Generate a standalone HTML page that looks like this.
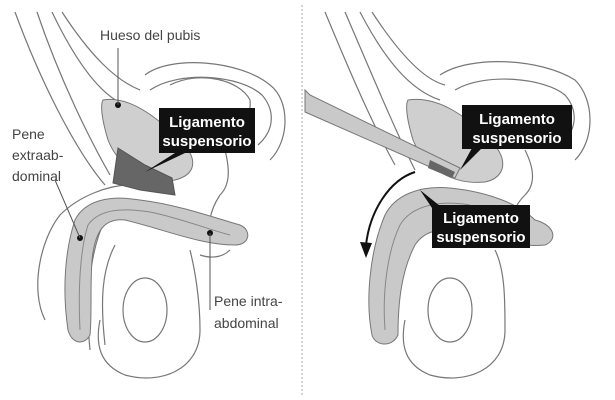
<!DOCTYPE html>
<html><head><meta charset="utf-8"><style>
html,body{margin:0;padding:0;background:#fff;width:615px;height:400px;overflow:hidden}
svg{display:block}
text{font-family:"Liberation Sans Narrow","Liberation Sans",sans-serif}
</style></head><body>
<svg width="615" height="400" viewBox="0 0 615 400" xmlns="http://www.w3.org/2000/svg">
<g fill="none" stroke="#777" stroke-width="1.2">
<path d="M15,12 C40,80 75,150 105,185"/>
<path d="M37,12 C60,80 90,140 110,175"/>
<path d="M52,12 C75,60 100,95 125,105"/>
<path d="M62,12 C90,55 115,80 140,90"/>
<path d="M145,75 C170,55 240,60 270,85 C290,100 290,140 270,160"/>
<path d="M150,90 C180,70 240,75 262,95 C275,110 275,130 258,145"/>
<path d="M170,85 C200,70 240,80 250,100 C252,120 240,130 235,150"/>
<path d="M225,150 C230,170 230,185 220,195"/>
<path d="M45,320 C30,290 40,240 60,215 C80,195 110,185 130,185"/>
<path d="M90,350 C85,300 90,250 105,220"/>
<path d="M105,345 C100,300 102,270 115,245"/>
<path d="M190,250 C195,270 200,300 200,330 C200,370 160,385 125,375 C100,365 95,345 100,320"/>
<ellipse cx="145" cy="310" rx="22" ry="32"/>
<path d="M220,195 C210,210 205,230 215,240"/>
<path d="M200,255 C215,260 225,255 230,250"/>
</g>
<path d="M103,100 C130,95 160,120 180,140 C200,160 195,175 175,180 C150,185 120,170 108,140 C102,120 100,105 103,100 Z" fill="#cfcfcf" stroke="#777"/>
<path d="M118,148 L145,165 L172,178 L175,195 L140,190 L113,183 Z" fill="#666" stroke="#555"/>
<path d="M68,330 C62,290 65,250 75,220 C85,200 110,195 140,200 C180,205 215,218 240,225 C252,230 250,245 235,245 C200,245 160,228 125,220 C105,218 95,230 92,260 C90,290 92,315 90,335 C85,345 72,345 68,330 Z" fill="#c9c9c9" stroke="#777"/>
<path d="M80,330 C78,290 80,250 88,225 C100,208 125,208 150,212 C180,218 210,230 230,235" fill="none" stroke="#888"/>
<circle cx="80" cy="238" r="3" fill="#111"/>
<circle cx="210" cy="233" r="3" fill="#111"/>
<circle cx="118" cy="105" r="3" fill="#111"/>
<g stroke="#555" stroke-width="1" fill="none">
<line x1="118" y1="105" x2="118" y2="48"/>
<line x1="80" y1="238" x2="55" y2="180"/>
<line x1="210" y1="233" x2="210" y2="310"/>
</g>
<rect x="159" y="108" width="96" height="45" fill="#111"/>
<path d="M175,153 L185,153 L145,172 Z" fill="#111"/>
<text x="207" y="127" font-size="15" font-weight="bold" fill="#fff" text-anchor="middle">Ligamento</text>
<text x="207" y="146" font-size="15" font-weight="bold" fill="#fff" text-anchor="middle">suspensorio</text>
<text x="100" y="40" font-size="14" fill="#444">Hueso del pubis</text>
<text x="12" y="139" font-size="14" fill="#444">Pene</text>
<text x="12" y="160" font-size="14" fill="#444">extraab-</text>
<text x="12" y="181" font-size="14" fill="#444">dominal</text>
<text x="214" y="306" font-size="14" fill="#444">Pene intra-</text>
<text x="214" y="328" font-size="14" fill="#444">abdominal</text>
<line x1="302" y1="5" x2="302" y2="395" stroke="#aaa" stroke-width="1" stroke-dasharray="2,2"/>
<g fill="none" stroke="#777" stroke-width="1.2">
<path d="M325,12 C345,60 370,120 395,165"/>
<path d="M345,12 C370,70 395,130 415,170"/>
<path d="M360,12 C385,60 410,90 440,100"/>
<path d="M372,12 C400,55 425,80 445,85"/>
<path d="M440,75 C470,55 540,58 575,80 C595,100 595,140 575,160"/>
<path d="M455,90 C485,72 545,78 565,95 C578,110 578,130 560,145"/>
<path d="M525,150 C535,170 535,185 525,195"/>
<path d="M495,250 C505,270 505,300 505,330 C505,370 465,385 430,375 C405,365 400,345 405,320"/>
<ellipse cx="450" cy="310" rx="22" ry="32"/>
<path d="M525,195 C515,205 510,215 520,225"/>
</g>
<path d="M408,100 C440,95 470,120 490,140 C510,160 505,178 485,182 C455,185 425,170 413,140 C407,120 405,105 408,100 Z" fill="#cfcfcf" stroke="#777"/>
<path d="M305,90 L310,95 L460,168 L455,178 L305,112 Z" fill="#c9c9c9" stroke="#777"/>
<path d="M430,160 L455,172 L452,178 L428,168 Z" fill="#666"/>
<path d="M372,335 C365,300 370,250 385,215 C395,195 420,185 450,188 C490,192 520,205 535,220 C555,225 558,240 545,245 C510,248 480,235 460,232 C440,228 425,230 415,245 C402,270 398,300 398,335 C392,348 375,346 372,335 Z" fill="#c9c9c9" stroke="#777"/>
<path d="M385,330 C382,290 388,250 400,225 C412,205 440,200 470,205" fill="none" stroke="#888"/>
<path d="M415,172 C390,180 370,210 366,245" fill="none" stroke="#111" stroke-width="2"/>
<path d="M360,242 L366,258 L372,243 Z" fill="#111"/>
<rect x="462" y="105" width="110" height="44" fill="#111"/>
<path d="M472,148 L482,148 L460,170 Z" fill="#111"/>
<text x="517" y="124" font-size="15" font-weight="bold" fill="#fff" text-anchor="middle">Ligamento</text>
<text x="517" y="143" font-size="15" font-weight="bold" fill="#fff" text-anchor="middle">suspensorio</text>
<rect x="432" y="205" width="98" height="43" fill="#111"/>
<path d="M432,208 L445,210 L420,190 Z" fill="#111"/>
<text x="481" y="223" font-size="15" font-weight="bold" fill="#fff" text-anchor="middle">Ligamento</text>
<text x="481" y="242" font-size="15" font-weight="bold" fill="#fff" text-anchor="middle">suspensorio</text>
</svg>
</body></html>
